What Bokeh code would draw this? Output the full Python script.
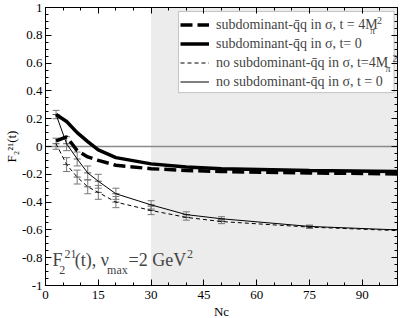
import numpy as np
from bokeh.plotting import figure
from bokeh.models import (ColumnDataSource, Whisker, TeeHead, Span, BoxAnnotation, Label,
                          LinearAxis, FixedTicker, Legend, LegendItem, Range1d, Title)
from bokeh.embed import file_html
from bokeh.resources import INLINE
from bokeh.core.properties import value

# ---- data ----
nc = [3, 6, 9, 12, 15, 20, 30, 40, 50, 75, 100]
sub_t4m = [0.04, 0.07, -0.03, -0.075, -0.10, -0.135, -0.16, -0.172, -0.18, -0.19, -0.197]
sub_t0 = [0.23, 0.18, 0.10, 0.035, -0.025, -0.08, -0.125, -0.148, -0.16, -0.172, -0.18]
nosub_t4m = [0.02, -0.13, -0.22, -0.29, -0.33, -0.40, -0.46, -0.51, -0.54, -0.58, -0.605]
nosub_t0 = [0.23, 0.02, -0.09, -0.19, -0.25, -0.34, -0.42, -0.49, -0.52, -0.575, -0.60]

err_nc = [3, 6, 9, 12, 15, 20, 30, 40, 50, 75]
err_t0 = [0.03, 0.05, 0.05, 0.05, 0.05, 0.04, 0.03, 0.02, 0.015, 0.01]
err_t4m = [0.04, 0.05, 0.05, 0.05, 0.05, 0.04, 0.03, 0.02, 0.015, 0.01]

x_ticks = [0, 15, 30, 45, 60, 75, 90]
y_ticks = [-1, -0.8, -0.6, -0.4, -0.2, 0, 0.2, 0.4, 0.6, 0.8, 1]
y_tick_labels = ["-1", "-0.8", "-0.6", "-0.4", "-0.2", "0", "0.2", "0.4", "0.6", "0.8", "1"]
shade_start, shade_end = 30, 100

labels = ["subdominant-q\u0304q in \u03c3, t = 4M",
          "subdominant-q\u0304q in \u03c3, t= 0",
          "no subdominant-q\u0304q in \u03c3, t=4M",
          "no subdominant-q\u0304q in \u03c3, t = 0"]

FONT = "Liberation Serif"

p = figure(width=399, height=318, x_range=Range1d(0, 100), y_range=Range1d(-1, 1),
           output_backend="svg", toolbar_location=None,
           min_border_left=39, min_border_right=2, min_border_top=7, min_border_bottom=25)
p.grid.visible = False
p.outline_line_color = "black"
p.background_fill_color = "white"

p.add_layout(BoxAnnotation(left=shade_start, right=shade_end, fill_color="#ececec",
                           fill_alpha=1, line_alpha=0, level="underlay"))
# white legend box (legend itself is transparent)
p.add_layout(BoxAnnotation(left=37.8, right=99.0, top=0.971, bottom=0.388,
                           fill_color="white", fill_alpha=1, line_color="#555555",
                           line_width=1, level="underlay"))
p.add_layout(Span(location=0, dimension="width", line_color="#8a8a8a", line_width=1.5,
                  level="underlay"))

# error bars
for vals, errs in ((nosub_t0, err_t0), (nosub_t4m, err_t4m)):
    n = len(err_nc)
    src = ColumnDataSource(dict(x=err_nc, y=vals[:n],
                                lo=[v - e for v, e in zip(vals[:n], errs)],
                                hi=[v + e for v, e in zip(vals[:n], errs)]))
    w = Whisker(source=src, base="x", upper="hi", lower="lo", line_color="#777777",
                line_width=1,
                upper_head=TeeHead(size=7, line_color="#777777", line_width=1),
                lower_head=TeeHead(size=7, line_color="#777777", line_width=1))
    p.add_layout(w)
    p.scatter("x", "y", source=src, marker="dash", size=7, line_color="#555555", line_width=1)

r1 = p.line(nc, sub_t4m, line_color="black", line_width=3.5, line_dash="12 5")
r2 = p.line(nc, sub_t0, line_color="black", line_width=3.5)
r3 = p.line(nc, nosub_t4m, line_color="black", line_width=1, line_dash="4 3")
r4 = p.line(nc, nosub_t0, line_color="black", line_width=1)

legend = Legend(items=[LegendItem(label=l, renderers=[r]) for l, r in zip(labels, [r1, r2, r3, r4])],
                location=(133, 193), margin=0, padding=2, spacing=2,
                glyph_width=29, glyph_height=17, label_standoff=7,
                label_text_font=FONT, label_text_font_size="14px",
                label_height=17,
                border_line_alpha=0, background_fill_alpha=0)
p.add_layout(legend)

# axes
p.xaxis.ticker = FixedTicker(ticks=x_ticks, minor_ticks=list(range(0, 101, 5)))
p.yaxis.ticker = FixedTicker(ticks=y_ticks, minor_ticks=[round(-1 + 0.05 * i, 2) for i in range(41)])
p.yaxis.major_label_overrides = {t: s for t, s in zip(y_ticks, y_tick_labels)}
p.yaxis.axis_label = "F\u2082\u00b2\u00b9(t)"

top = LinearAxis(ticker=FixedTicker(ticks=x_ticks, minor_ticks=list(range(0, 101, 5))),
                 major_label_overrides={t: "" for t in x_ticks})
right = LinearAxis(ticker=FixedTicker(ticks=y_ticks, minor_ticks=[round(-1 + 0.05 * i, 2) for i in range(41)]),
                   major_label_overrides={t: "" for t in y_ticks})
for ax in (top, right):
    ax.major_label_standoff = 0
p.add_layout(top, "above")
p.add_layout(right, "right")

for ax in p.axis:
    ax.major_tick_in = 6
    ax.major_tick_out = 0
    ax.minor_tick_in = 3
    ax.minor_tick_out = 0
    ax.axis_line_color = "black"
    ax.major_tick_line_color = "black"
    ax.minor_tick_line_color = "black"
    ax.major_label_text_font = FONT
    ax.major_label_text_color = "black"
    ax.major_label_text_font_size = "13px"
    ax.axis_label_text_font = FONT
    ax.axis_label_text_color = "black"
    ax.axis_label_text_font_style = "normal"
    ax.axis_label_text_font_size = "13px"
    ax.axis_label_standoff = 0
p.xaxis[0].major_label_standoff = 2
p.yaxis[0].major_label_standoff = 3

# x axis title as a compact title panel below the axis
p.add_layout(Title(text="Nc", align="center", text_font=FONT, text_font_size="13px",
                   text_font_style="normal", text_color="black", standoff=0, offset=0,
                   text_line_height=0.4), "below")

# sub/superscripts in legend entries 1 and 3
legend_scripts = [("\u03c0", 92.2, 0.793), ("2", 94.2, 0.884),
                  ("\u03c0", 96.6, 0.519), ("2", 98.6, 0.611)]
for t, x, y in legend_scripts:
    p.add_layout(Label(x=x, y=y, text=t, text_font=FONT, text_font_size="10px"))

# annotation text
ann = [("F", 2.0, -0.89, "18px"), ("2", 3.9, -0.92, "12px"), ("21", 5.4, -0.80, "12px"),
       ("(t), \u03bd", 8.3, -0.89, "18px"), ("max", 17.5, -0.94, "12px"),
       ("=2 GeV", 23.6, -0.89, "18px"), ("2", 40.2, -0.80, "12px")]
for t, x, y, fs in ann:
    p.add_layout(Label(x=x, y=y, text=t, text_font=FONT, text_font_size=fs))

open("out.html", "w").write(file_html(p, INLINE))
